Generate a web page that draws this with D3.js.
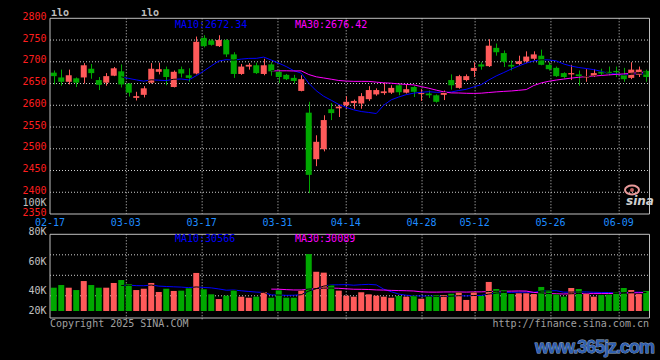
<!DOCTYPE html>
<html><head><meta charset="utf-8">
<script src="https://cdn.jsdelivr.net/npm/d3@7"></script>
<style>html,body{margin:0;padding:0;background:#000;} svg{display:block;}</style>
</head><body>
<script>
const dates = ["02-17","02-18","02-19","02-20","02-21","02-24","02-25","02-26","02-27","02-28",
"03-03","03-04","03-05","03-06","03-07","03-10","03-11","03-12","03-13","03-14",
"03-17","03-18","03-19","03-20","03-21","03-24","03-25","03-26","03-27","03-28",
"03-31","04-01","04-02","04-03","04-07","04-08","04-09","04-10","04-11",
"04-14","04-15","04-16","04-17","04-18","04-21","04-22","04-23","04-24","04-25",
"04-28","04-29","04-30","05-06","05-07","05-08","05-09",
"05-12","05-13","05-14","05-15","05-16","05-19","05-20","05-21","05-22","05-23",
"05-26","05-27","05-28","05-29","05-30","06-03","06-04","06-05","06-06",
"06-09","06-10","06-11","06-12","06-13"];
const open  = [2675,2664,2654,2662,2664,2684,2658,2652,2668,2678,2650,2617,2624,2652,2677,2683,2642,2683,2669,2673,
2755,2749,2736,2750,2717,2672,2689,2692,2672,2694,2677,2670,2663,2633,2583,2476,2499,2591,2593,
2600,2605,2604,2614,2625,2628,2629,2646,2629,2642,2626,2627,2623,2624,2658,2640,2658,
2679,2694,2690,2732,2720,2693,2695,2701,2707,2714,2693,2686,2674,2671,2671,2664,2667,2677,2677,
2679,2670,2663,2670,2679];
const high  = [2680,2682,2682,2664,2697,2695,2665,2674,2688,2694,2651,2631,2644,2697,2698,2689,2680,2689,2685,2758,
2761,2752,2761,2752,2722,2695,2697,2698,2707,2699,2682,2672,2670,2669,2608,2531,2577,2605,2601,
2621,2613,2628,2644,2639,2652,2646,2650,2648,2644,2637,2634,2625,2634,2671,2670,2671,
2699,2699,2752,2742,2726,2703,2714,2724,2724,2728,2699,2689,2676,2693,2680,2683,2683,2684,2689,
2689,2686,2699,2689,2682];
const low   = [2648,2645,2648,2642,2650,2661,2635,2645,2667,2641,2620,2611,2618,2650,2671,2646,2641,2664,2654,2671,
2733,2737,2734,2711,2663,2670,2682,2672,2669,2668,2651,2658,2650,2632,2398,2460,2494,2566,2573,
2592,2592,2592,2610,2622,2624,2626,2623,2627,2619,2610,2617,2606,2612,2636,2638,2655,
2665,2682,2688,2714,2688,2680,2692,2697,2703,2692,2680,2665,2662,2658,2645,2654,2665,2669,2669,
2665,2654,2660,2665,2654];
const close = [2667,2654,2669,2652,2692,2674,2647,2667,2685,2648,2629,2621,2639,2684,2683,2665,2677,2673,2663,2746,
2736,2739,2750,2717,2672,2689,2693,2674,2692,2678,2665,2660,2656,2660,2440,2516,2566,2582,2597,
2608,2610,2621,2635,2635,2632,2640,2630,2637,2631,2628,2623,2608,2630,2646,2667,2667,
2686,2689,2737,2722,2700,2689,2701,2712,2717,2693,2683,2667,2665,2674,2667,2667,2674,2673,2673,
2676,2660,2682,2682,2665];
const volume = [41900,43700,41900,40300,46400,43700,41900,41900,45100,47100,44400,40300,41200,45100,39000,41200,39700,39900,41500,51900,
40800,37400,34200,36500,40300,35800,35100,35800,39000,35100,40100,35100,35100,40100,64700,52700,52100,43700,39900,
36500,35800,38800,37400,36500,35800,35100,36300,35800,36500,34400,36100,36900,36900,37800,39000,33600,
39000,36300,45800,41000,40300,37600,38100,38100,37600,42400,40300,37400,35800,41700,41000,37800,35800,36900,37200,
39000,41700,40300,37600,39700];
const priceTicks = [2800,2750,2700,2650,2600,2550,2500,2450,2400,2350];
const volTicks = [100000,80000,60000,40000,20000];
const volTickText = ["100K","80K","60K","40K","20K"];
const dateTicks = ["02-17","03-03","03-17","03-31","04-14","04-28","05-12","05-26","06-09"];
const priceLegend = ["MA10:2672.34","MA30:2676.42"];
const volLegend = ["MA10:30566","MA30:30089"];
const headerText = ["ılo","ılo"];

const W = 660, H = 360;
const L = 50, R = 649.5;
const pTop = 18.3, pBot = 214;
const vTop = 234.3, vBot = 318, vBase = 311;
const UP = "#ff5a5a", DOWN = "#00a800", GRID = "#cfcfcf", FRAME = "#c0c0c0";
const FONT = "DejaVu Sans Mono";

const svg = d3.select("body").append("svg").attr("width", W).attr("height", H).style("background", "#000");
const defs = svg.append("defs");

const x = d3.scaleBand().domain(dates).range([L, 650]).paddingInner(0.2).paddingOuter(0.1);
const xg = d3.scalePoint().domain(dates).range([L, 649]);
const bw = x.bandwidth();
const cx = d => x(d) + bw / 2;
const y = d3.scaleLinear().domain([2350, 2800]).range([pBot, pTop]);
const yv = d3.scaleLinear().domain([20000, 100000]).range([320, 202]);
const yq = d3.scaleLinear().domain([0, 4]).range([316.3, vTop]);

const rows = dates.map((d, i) => ({d, o: open[i], h: high[i], l: low[i], c: close[i], v: volume[i]}));
const col = r => r.c >= r.o ? UP : DOWN;

function ma(arr, n) { return arr.map((_, i) => i < n - 1 ? null : d3.mean(arr.slice(i - n + 1, i + 1))); }

// ---------- grids ----------
const g = svg.append("g");
g.selectAll("line.hp").data(priceTicks.slice(1, -1)).join("line")
  .attr("x1", L).attr("x2", R).attr("y1", d => y(d)).attr("y2", d => y(d))
  .attr("stroke", GRID).attr("stroke-dasharray", "1,2");
g.selectAll("line.vp").data(dateTicks.slice(1)).join("line")
  .attr("x1", d => xg(d) + 0.5).attr("x2", d => xg(d) + 0.5).attr("y1", pTop).attr("y2", pBot)
  .attr("stroke", GRID).attr("stroke-dasharray", "1,2");
g.selectAll("line.hv").data([1, 2, 3]).join("line")
  .attr("x1", L).attr("x2", R).attr("y1", d => yq(d)).attr("y2", d => yq(d))
  .attr("stroke", GRID).attr("stroke-dasharray", "1,2");
const gv = svg.append("g");
gv.selectAll("line").data(dateTicks.slice(1)).join("line")
  .attr("x1", d => xg(d) + 0.5).attr("x2", d => xg(d) + 0.5).attr("y1", vTop).attr("y2", vBot + 3)
  .attr("stroke", GRID).attr("stroke-dasharray", "1,2");

// ---------- masks for MA crossing bodies ----------
function bodyRect(r) {
  const y1 = y(Math.max(r.o, r.c)), y2 = y(Math.min(r.o, r.c));
  return {x: x(r.d), y: y1, w: bw, h: Math.max(1, y2 - y1)};
}
function volRect(r) { const t = yv(r.v); return {x: x(r.d), y: t, w: bw, h: vBase - t}; }

function makeMaskClip(id, rectFn) {
  const cp = defs.append("clipPath").attr("id", "c" + id);
  cp.selectAll("rect").data(rows).join("rect")
    .attr("x", r => rectFn(r).x).attr("y", r => rectFn(r).y).attr("width", r => rectFn(r).w).attr("height", r => rectFn(r).h);
  const m = defs.append("mask").attr("id", "m" + id).attr("maskUnits", "userSpaceOnUse")
    .attr("x", 0).attr("y", 0).attr("width", W).attr("height", H);
  m.append("rect").attr("x", 0).attr("y", 0).attr("width", W).attr("height", H).attr("fill", "#fff");
  m.selectAll("rect.b").data(rows).join("rect").attr("class", "b")
    .attr("x", r => rectFn(r).x).attr("y", r => rectFn(r).y).attr("width", r => rectFn(r).w).attr("height", r => rectFn(r).h)
    .attr("fill", "#000");
}
makeMaskClip("P", bodyRect);
makeMaskClip("V", volRect);

// ---------- candles ----------
const cg = svg.append("g");
cg.selectAll("line").data(rows).join("line")
  .attr("x1", r => Math.round(cx(r.d)) + 0.5).attr("x2", r => Math.round(cx(r.d)) + 0.5)
  .attr("y1", r => y(r.h)).attr("y2", r => y(r.l)).attr("stroke", col).attr("stroke-width", 1);
cg.selectAll("rect").data(rows).join("rect")
  .attr("x", r => bodyRect(r).x).attr("y", r => bodyRect(r).y)
  .attr("width", bw).attr("height", r => bodyRect(r).h).attr("fill", col);

// ---------- volume bars ----------
svg.append("g").selectAll("rect").data(rows).join("rect")
  .attr("x", r => volRect(r).x).attr("y", r => volRect(r).y)
  .attr("width", bw).attr("height", r => volRect(r).h).attr("fill", col);

// ---------- MA lines ----------
const pma10 = ma(close, 10), pma30 = ma(close, 30);
const vma10 = ma(volume, 10), vma30 = ma(volume, 30);
function drawMA(vals, ys, color, id) {
  const data = dates.map((d, i) => ({d, v: vals[i]}));
  const lineS = d3.line().defined(d => d.v != null).x(d => cx(d.d)).y(d => ys(d.v));
  svg.append("path").datum(data).attr("d", lineS).attr("fill", "none").attr("stroke", color)
    .attr("stroke-width", 1).attr("mask", `url(#m${id})`);
  svg.append("path").datum(data).attr("d", lineS).attr("fill", "none").attr("stroke", "#000")
    .attr("stroke-width", 1).attr("clip-path", `url(#c${id})`);
}
drawMA(pma10, y, "#0000ff", "P");
drawMA(pma30, y, "#ff00ff", "P");
drawMA(vma10, yv, "#0000ff", "V");
drawMA(vma30, yv, "#ff00ff", "V");

// ---------- frames ----------
const fr = svg.append("g").attr("fill", "none").attr("stroke", FRAME).attr("stroke-width", 1);
fr.append("path").attr("d", `M${L},${pTop}H${R}V${pBot}H${L}Z`);
fr.append("path").attr("d", `M${L},${vTop}H${R}V${vBot}H${L}Z`);

// ---------- text ----------
const t = svg.append("g").attr("font-family", FONT).attr("font-size", 10);
t.selectAll("text.p").data(priceTicks).join("text")
  .attr("x", 46.5).attr("y", d => y(d) + 1.5).attr("text-anchor", "end").attr("fill", "#ff1e1e").text(d => d);
t.selectAll("text.v").data(volTicks).join("text")
  .attr("x", 46.5).attr("y", d => Math.min(yv(d), 310.5) + 3.6).attr("text-anchor", "end").attr("fill", "#c0c0c0")
  .text((d, i) => volTickText[i]);
t.selectAll("text.x").data(dateTicks).join("text")
  .attr("x", d => xg(d)).attr("y", 225.5).attr("text-anchor", "middle").attr("fill", "#1e8cff").text(d => d);
t.selectAll("text.lp").data(priceLegend).join("text")
  .attr("x", (d, i) => 175 + i * 120).attr("y", 27.5).attr("fill", (d, i) => i ? "#ff00ff" : "#0000ff").text(d => d);
t.selectAll("text.lv").data(volLegend).join("text")
  .attr("x", (d, i) => 175 + i * 120).attr("y", 242).attr("fill", (d, i) => i ? "#ff00ff" : "#0000ff").text(d => d);
t.selectAll("text.h").data(headerText).join("text")
  .attr("x", (d, i) => i ? 141 : 51).attr("y", 15.5).attr("fill", "#bdbdbd").attr("font-weight", "bold").text(d => d);
t.append("text").attr("x", 50).attr("y", 327).attr("fill", "#a0a0a0").text("Copyright 2025 SINA.COM");
t.append("text").attr("x", 649).attr("y", 327).attr("text-anchor", "end").attr("fill", "#a0a0a0").text("http://finance.sina.com.cn");

// sina logo watermark
const lg = svg.append("g");
lg.append("ellipse").attr("cx", 632).attr("cy", 190).attr("rx", 7).attr("ry", 4.5).attr("fill", "none").attr("stroke", "#e89a9a").attr("stroke-width", 2);
lg.append("circle").attr("cx", 632).attr("cy", 190).attr("r", 2).attr("fill", "#c06060");
lg.append("text").attr("x", 626).attr("y", 205).attr("font-family", "DejaVu Sans").attr("font-style", "italic")
  .attr("font-weight", "bold").attr("font-size", 12).attr("fill", "#cfcfcf").text("sina");

// site watermark
svg.append("text").attr("x", 595).attr("y", 353).attr("text-anchor", "middle")
  .attr("font-family", "Liberation Sans").attr("font-weight", "bold").attr("font-size", 18)
  .attr("fill", "#2f5fb0").attr("stroke", "#9fb4d0").attr("stroke-width", 0.8).attr("paint-order", "stroke")
  .attr("textLength", 120).text("www.365jz.com");
</script>
</body></html>
